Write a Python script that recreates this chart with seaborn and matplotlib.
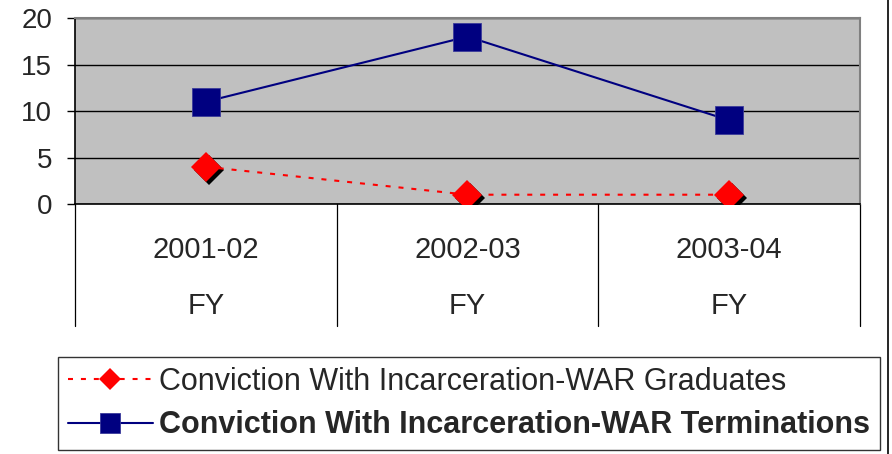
import matplotlib
matplotlib.use("Agg")
import matplotlib.pyplot as plt
import matplotlib.transforms as mtransforms
from matplotlib.lines import Line2D
import pandas as pd
import seaborn as sns

# data
years = ["2001-02", "2002-03", "2003-04"]
period = "FY"
graduates = [4, 1, 1]
terminations = [11, 18, 9]
label_grad = "Conviction With Incarceration-WAR Graduates"
label_term = "Conviction With Incarceration-WAR Terminations"

df = pd.DataFrame({"year": years, "grad": graduates, "term": terminations})

sns.set_style("white")
plt.rcParams["font.family"] = ["Liberation Sans", "DejaVu Sans"]

fig = plt.figure(figsize=(8.92, 4.54), dpi=100)
ax = fig.add_axes([75 / 892, 250 / 454, 785 / 892, 186 / 454])
ax.set_facecolor("#c0c0c0")

# black shadow under the diamonds
shadow = mtransforms.offset_copy(ax.transData, fig=fig, x=3, y=-3, units="dots")
ax.plot(df["year"], df["grad"], ls="none", marker="D", ms=15, mew=0,
        color="black", transform=shadow, zorder=3)

sns.lineplot(data=df, x="year", y="grad", ax=ax, color="#ff0000", lw=1.5,
             marker="D", markersize=15, markeredgewidth=0,
             zorder=4, legend=False)
ax.lines[-1].set_dashes([2.4, 3.8])
sns.lineplot(data=df, x="year", y="term", ax=ax, color="#000080", lw=1.5,
             marker="s", markersize=19.5, markeredgewidth=0.6,
             markeredgecolor="#3a3a9a", zorder=4, legend=False)

ax.set_xlim(-0.5, 2.5)
ax.set_ylim(0, 20)
ax.set_yticks([0, 5, 10, 15, 20])
ax.yaxis.grid(True, color="black", lw=1)
ax.set_axisbelow(True)
ax.tick_params(axis="y", left=True, length=5.8, width=1, color="black",
               labelsize=20, pad=10.5)
ax.tick_params(axis="x", bottom=False, length=0, labelsize=21, pad=23)
ax.set_xlabel("")
ax.set_ylabel("")

for side in ["left", "bottom"]:
    ax.spines[side].set_color("black")
    ax.spines[side].set_linewidth(1.2)
for side in ["top", "right"]:
    ax.spines[side].set_color("#808080")
    ax.spines[side].set_linewidth(1.5)

# category table below the plot
trans = mtransforms.blended_transform_factory(ax.transData, ax.transAxes)
for i in range(len(years) + 1):
    ax.add_line(Line2D([i - 0.5, i - 0.5], [0, -0.656], transform=trans,
                       color="black", lw=0.9, clip_on=False))
for y in years:
    ax.text(y, -0.55, period, transform=trans, ha="center", va="center",
            fontsize=21)

handles = [
    Line2D([], [], color="#ff0000", lw=1.5, dashes=[2.4, 3.8], marker="D",
           ms=11, mew=0),
    Line2D([], [], color="#000080", lw=1.5, marker="s", ms=15, mew=0.6,
           mec="#3a3a9a"),
]
leg = fig.legend(handles, [label_grad, label_term], loc="upper left",
                 bbox_to_anchor=(58 / 892, 1 - 357 / 454), fontsize=22,
                 frameon=True, fancybox=False, edgecolor="black",
                 handlelength=2.78, handletextpad=0.22, labelspacing=0.44,
                 borderpad=0.32, borderaxespad=0)
leg.get_frame().set_linewidth(1)
leg.get_texts()[1].set_fontweight("bold")

fig.add_artist(Line2D([888 / 892, 888 / 892], [0, 1], color="black", lw=1.2,
                      transform=fig.transFigure))

fig.savefig("out.png", dpi=100)
